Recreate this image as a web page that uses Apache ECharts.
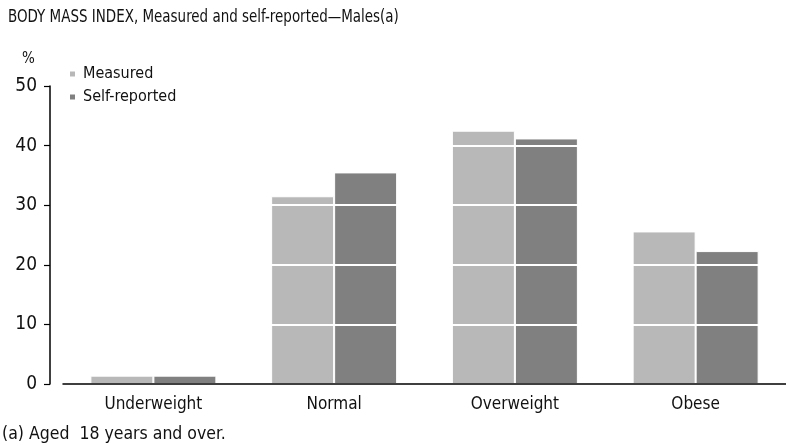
<!DOCTYPE html>
<html>
<head>
<meta charset="utf-8">
<script src="https://cdn.jsdelivr.net/npm/echarts@6/dist/echarts.min.js"></script>
<style>
  html, body { margin: 0; padding: 0; background: #fff; }
  #chart { width: 786px; height: 446px; }
</style>
</head>
<body>
<div id="chart"></div>
<script>
// BMI categories and percentages of males (18+)
const categories = ['Underweight', 'Normal', 'Overweight', 'Obese'];
const measured = [1.4, 31.5, 42.5, 25.6];
const selfReported = [1.4, 35.5, 41.2, 22.3];
const yTicks = [0, 10, 20, 30, 40, 50];

const FONT = '"DejaVu Sans Condensed", "Liberation Sans Narrow", sans-serif';
const chart = echarts.init(document.getElementById('chart'), null, { renderer: 'canvas' });

chart.setOption({
  animation: false,
  backgroundColor: '#fff',
  legend: {
    orient: 'vertical',
    left: 63, top: 61,
    itemWidth: 7, itemHeight: 7, itemGap: 7,
    icon: 'rect',
    textStyle: { fontFamily: FONT, fontSize: 16, color: '#111', padding: [0, 0, 0, 2] },
    data: ['Measured', 'Self-reported']
  },
  graphic: [
    // title, squeezed horizontally to a narrow face
    { type: 'text', x: 8, y: 9, scaleX: 0.88, originX: 0,
      style: { text: 'BODY MASS INDEX, Measured and self-reported\u2014Males(a)', font: '17px ' + FONT, fill: '#111' } },
    { type: 'text', left: 22, top: 52, style: { text: '%', font: '15px ' + FONT, fill: '#111' } },
    { type: 'text', left: 2, top: 425, style: { text: '(a) Aged  18 years and over.', font: '17.5px ' + FONT, fill: '#111' } }
  ],
  grid: { left: 63, right: -5, top: 86, bottom: 62, containLabel: false },
  xAxis: {
    type: 'category',
    data: categories,
    z: 6,
    axisLine: { lineStyle: { color: '#000', width: 1.5 } },
    axisTick: { alignWithLabel: true, length: 4, lineStyle: { color: '#000' } },
    axisLabel: { fontFamily: FONT, fontSize: 17, color: '#111', margin: 12 }
  },
  yAxis: {
    type: 'value',
    min: 0, max: 50, interval: 10,
    offset: 13,
    z: 5,
    axisLine: { show: true, lineStyle: { color: '#000', width: 1.5 } },
    axisTick: { show: true, length: 6, lineStyle: { color: '#000', width: 1.2 } },
    axisLabel: {
      fontFamily: FONT, fontSize: 19, color: '#111', margin: 13,
      formatter: v => (yTicks.includes(v) ? String(v) : '')
    },
    splitLine: { show: true, lineStyle: { color: '#fff', width: 2 } }
  },
  series: [
    {
      name: 'Measured', type: 'bar', data: measured,
      barWidth: 63, barGap: '0%',
      itemStyle: { color: '#b8b8b8', borderColor: '#fff', borderWidth: 1 }
    },
    {
      name: 'Self-reported', type: 'bar', data: selfReported,
      barWidth: 63,
      itemStyle: { color: '#808080', borderColor: '#fff', borderWidth: 1 }
    }
  ]
});
</script>
</body>
</html>
